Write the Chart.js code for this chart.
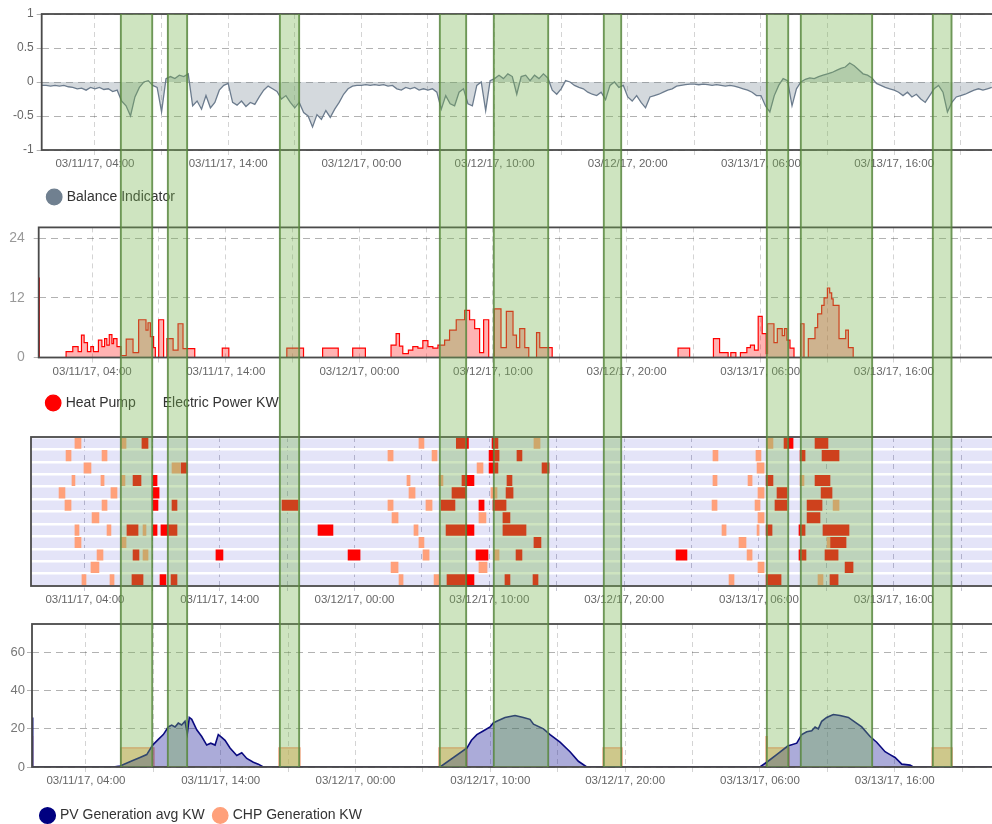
<!DOCTYPE html>
<html>
<head>
<meta charset="utf-8">
<title>Balance, heat pump and generation</title>
<script src="https://cdn.jsdelivr.net/npm/chart.js@4.4.1/dist/chart.umd.min.js"></script>
<style>
  html, body { margin: 0; padding: 0; background: #fff; overflow: hidden; }
  #page { position: relative; width: 992px; height: 824px; overflow: hidden; }
  canvas { position: absolute; left: 0; }
  #bands { pointer-events: none; z-index: 5; }
</style>
</head>
<body>
<div id="page">
  <canvas id="balance-chart" width="1010" height="214" style="top:0px"></canvas>
  <canvas id="heatpump-chart" width="1010" height="210" style="top:210px"></canvas>
  <canvas id="schedule-chart" width="1010" height="190" style="top:425px"></canvas>
  <canvas id="generation-chart" width="1010" height="219" style="top:614px"></canvas>
  <canvas id="bands" width="1010" height="753" style="top:14px"></canvas>
</div>
<script>
//Time axis in hours since 03/11/17 00:00
const tickHours = [4, 9, 14, 19, 24, 29, 34, 39, 44, 49, 54, 59, 64, 69];
const tickLabels = ["03/11/17, 04:00", "", "03/11/17, 14:00", "", "03/12/17, 00:00", "",
  "03/12/17, 10:00", "", "03/12/17, 20:00", "", "03/13/17, 06:00", "", "03/13/17, 16:00", ""];

//Balance indicator, one reading every 20 minutes
const balanceStep = 1 / 3;
const balanceValues = [
  -0.05, -0.05, -0.06, -0.05, -0.06, -0.05, -0.07, -0.08, -0.1, -0.09, -0.12, -0.08,
  -0.1, -0.08, -0.11, -0.1, -0.14, -0.12, -0.28, -0.35, -0.5, -0.22, -0.08, 0.0,
  0.02, -0.05, -0.08, -0.44, 0.05, 0.08, 0.05, 0.1, 0.08, 0.12, -0.35, -0.28,
  -0.4, -0.2, -0.38, -0.3, -0.12, -0.05, -0.02, -0.3, -0.34, -0.28, -0.36, -0.3,
  -0.33, -0.22, -0.12, -0.06, -0.1, -0.14, -0.25, -0.2, -0.3, -0.38, -0.3, -0.45,
  -0.5, -0.66, -0.48, -0.55, -0.42, -0.52, -0.4, -0.3, -0.18, -0.1, -0.06, -0.05,
  -0.05, -0.04, -0.05, -0.04, -0.05, -0.04, -0.06, -0.05, -0.1, -0.12, -0.08, -0.1,
  -0.08, -0.12, -0.1, -0.12, -0.1, -0.15, -0.4, -0.2, -0.32, -0.35, -0.15, -0.1,
  -0.32, -0.35, -0.05, 0.0, -0.42, 0.02, 0.05, 0.1, 0.05, 0.12, 0.08, -0.18,
  0.08, 0.1, 0.02, 0.1, 0.05, 0.12, 0.06, -0.12, -0.18, -0.1, 0.02, 0.0,
  -0.05, -0.08, -0.1, -0.15, -0.18, -0.2, -0.15, -0.26, -0.05, 0.0, -0.08, -0.05,
  -0.22, -0.28, -0.2, -0.3, -0.38, -0.22, -0.2, -0.18, -0.15, -0.12, -0.1, -0.06,
  -0.05, -0.04, -0.03, -0.03, -0.04, -0.03, -0.04, -0.05, -0.04, -0.05, -0.06, -0.05,
  -0.06, -0.08, -0.1, -0.12, -0.15, -0.2, -0.2, -0.35, -0.44, -0.2, -0.05, 0.05,
  0.02, -0.35, -0.1, 0.0, 0.04, 0.06, 0.05, 0.08, 0.1, 0.12, 0.14, 0.17,
  0.2, 0.22, 0.28, 0.24, 0.18, 0.12, 0.1, 0.06, -0.02, -0.05, -0.08, -0.1,
  -0.12, -0.15, -0.2, -0.15, -0.22, -0.18, -0.25, -0.3, -0.2, -0.1, -0.05, -0.15,
  -0.44, -0.3, -0.22, -0.2, -0.18, -0.15, -0.12, -0.1, -0.12, -0.1, -0.08
];

//Heat pump electric power KW: [hour, kw] from that hour on
const heatPumpPoints = [
  [0, 16], [0.05, 0],
  [2.05, 1.2], [2.55, 2.2], [2.95, 1.2], [3.2, 4.5], [3.4, 3], [3.65, 1.2], [3.9, 2.2], [4.1, 1.2],
  [4.47, 3.5], [4.73, 2.2], [4.93, 3.8], [5.1, 2.5], [5.28, 4.6], [5.48, 2.8], [5.6, 3.8], [5.86, 2.2],
  [6.16, 0.4], [6.55, 3.7], [7.06, 1.0], [7.48, 7.6], [8.03, 5.5], [8.18, 7], [8.36, 4.2], [8.6, 2],
  [8.73, 0], [8.98, 7.6], [9.35, 0], [9.6, 3.8], [10.06, 1.5], [10.43, 6.8], [10.8, 1.8], [11.68, 0],
  [13.74, 1.9], [14.23, 0], [18.57, 1.9], [19.82, 0], [21.25, 1.9], [22.42, 0], [23.5, 1.9], [24.45, 0],
  [26.37, 2.5], [26.75, 4.8], [27.0, 2.3], [27.25, 0.8], [27.67, 1.5], [28.0, 2.2], [28.38, 1.9],
  [28.75, 3.4], [29.13, 2.2], [29.5, 1.9], [29.88, 2.5], [30.38, 3.5], [30.75, 5.5], [31.25, 7.6],
  [31.88, 9.5], [32.25, 7.6], [32.63, 5.8], [33.0, 1.0], [33.3, 7.6], [33.68, 0], [34.1, 9.8],
  [34.6, 2], [35.0, 9.3], [35.5, 4.5], [35.76, 2], [36.0, 5.8], [36.38, 2], [36.68, 0], [37.26, 5],
  [37.5, 2], [38.43, 0], [47.85, 1.9], [48.72, 0],
  [50.5, 3.8], [50.96, 1.0], [51.6, 0], [51.8, 1.0], [52.18, 0], [52.52, 1.0], [53.0, 2.0], [53.27, 2.5],
  [53.57, 1.5], [53.85, 8.3], [54.15, 4.8], [54.45, 0.8], [54.55, 6.8], [55.03, 3.0], [55.28, 5.8],
  [55.65, 4.4], [55.82, 5.8], [56.0, 3.5], [56.23, 1.9], [56.53, 0], [57.03, 6.8], [57.28, 0],
  [57.6, 3.8], [58.1, 6], [58.3, 8.8], [58.6, 10.5], [58.78, 12], [59.03, 14], [59.2, 13], [59.35, 11.8],
  [59.46, 10.5], [59.9, 3.8], [60.4, 5.5], [60.6, 2], [60.96, 0], [71.5, 0]
];

//PV generation avg KW: [hour, kw]
const pvPoints = [
  [0, 26], [0.05, 0], [6.03, 0], [6.53, 0.5], [7.52, 3.5], [8.01, 5], [8.51, 6.5], [8.95, 11.5],
  [9.37, 14.5], [9.74, 17], [10.11, 21], [10.36, 22], [10.61, 21], [10.85, 23], [11.1, 22], [11.35, 24],
  [11.52, 17.5], [11.67, 26], [11.85, 25], [12.22, 19.5], [12.59, 16], [12.96, 11.5], [13.26, 12.5],
  [13.58, 11.5], [13.82, 17], [14.07, 15.5], [14.32, 14], [14.69, 10], [15.19, 6], [15.56, 7.5],
  [15.93, 4.5], [16.42, 2.5], [16.79, 1.5], [17.16, 0],
  [30.27, 0], [32.27, 10], [32.6, 14], [33.0, 17], [33.5, 19], [33.98, 21], [34.2, 23], [34.47, 24],
  [35.09, 26], [35.83, 27], [36.45, 26], [36.94, 25], [37.2, 22.5], [37.94, 20], [38.43, 17],
  [39.17, 13], [39.91, 8], [40.53, 3], [41.15, 0],
  [54.0, 0], [54.5, 2.5], [55.24, 6.5], [56.06, 11], [56.73, 12.5], [57.1, 17], [57.47, 18.5],
  [57.84, 19], [58.09, 21], [58.33, 20], [58.58, 24], [58.95, 26], [59.44, 27.5], [59.94, 27],
  [60.56, 26], [61.05, 23.5], [61.55, 21], [62.17, 16], [62.66, 13], [63.28, 8], [63.65, 6.5],
  [64.02, 5], [64.52, 1.5], [65.13, 1], [65.38, 0], [71.5, 0]
];

//CHP generation KW: [hour, kw] from that hour on
const chpPoints = [
  [0, 16], [0.05, 0], [6.6, 10], [9.05, 0], [18.32, 10], [19.88, 0], [30.19, 10], [32.27, 0],
  [42.36, 10], [43.77, 0], [54.45, 16], [54.55, 10], [56.16, 0], [66.77, 10], [68.25, 0], [71.5, 0]
];

//Schedule grid: [row, start hour, end hour]
const scheduleRows = ["1", "2", "3", "4", "5", "6", "7", "8", "9", "10", "11", "12"];
const chpCells = [
  [0, 3.26, 3.71], [0, 6.68, 7.05], [0, 28.78, 29.15], [0, 37.31, 37.76], [0, 54.6, 55.04],
  [1, 2.6, 2.97], [1, 5.27, 5.64], [1, 26.48, 26.86], [1, 29.75, 30.12], [1, 50.59, 50.96], [1, 53.78, 54.15],
  [2, 3.93, 4.45], [2, 10.46, 11.05], [2, 33.09, 33.53], [2, 53.86, 54.38],
  [3, 3.04, 3.26], [3, 5.19, 5.42], [3, 6.68, 6.97], [3, 27.89, 28.12], [3, 30.27, 30.56], [3, 50.59, 50.89],
  [3, 53.19, 53.49], [3, 57.05, 57.34],
  [4, 2.08, 2.52], [4, 5.93, 6.38], [4, 28.04, 28.49], [4, 34.12, 34.57], [4, 53.93, 54.38],
  [5, 2.52, 2.97], [5, 5.27, 5.64], [5, 26.48, 26.86], [5, 29.3, 29.75], [5, 50.52, 50.89], [5, 53.71, 54.08],
  [5, 59.5, 59.94],
  [6, 4.53, 5.04], [6, 26.78, 27.23], [6, 33.23, 33.75], [6, 53.93, 54.38],
  [7, 3.26, 3.56], [7, 5.64, 5.93], [7, 8.31, 8.53], [7, 28.41, 28.71], [7, 51.26, 51.56], [7, 53.86, 54.01],
  [8, 3.26, 3.71], [8, 6.68, 7.05], [8, 28.78, 29.15], [8, 52.52, 53.04], [8, 59.05, 59.27],
  [9, 4.9, 5.34], [9, 8.31, 8.68], [9, 29.08, 29.53], [9, 34.35, 34.72], [9, 53.12, 53.49],
  [10, 4.45, 5.04], [10, 26.71, 27.23], [10, 33.23, 33.83], [10, 53.93, 54.38],
  [11, 3.78, 4.08], [11, 5.86, 6.16], [11, 27.3, 27.6], [11, 29.9, 30.27], [11, 51.78, 52.15], [11, 58.38, 58.75]
];
const heatPumpCells = [
  [0, 8.23, 8.68], [0, 31.55, 32.45], [0, 34.2, 34.64], [0, 55.86, 56.53], [0, 58.16, 59.12],
  [1, 33.98, 34.72], [1, 36.05, 36.42], [1, 57.05, 57.42], [1, 58.68, 59.94],
  [2, 11.13, 11.57], [2, 33.98, 34.64], [2, 37.91, 38.43],
  [3, 7.57, 8.16], [3, 9.05, 9.35], [3, 31.97, 32.86], [3, 35.31, 35.68], [3, 54.53, 55.04], [3, 58.16, 59.27],
  [4, 9.05, 9.5], [4, 31.23, 32.27], [4, 35.24, 35.76], [4, 55.34, 56.08], [4, 58.61, 59.42],
  [5, 9.05, 9.42], [5, 10.46, 10.83], [5, 18.62, 19.81], [5, 30.42, 31.45], [5, 33.23, 33.61],
  [5, 34.27, 35.24], [5, 55.19, 56.08], [5, 57.57, 58.68],
  [6, 35.01, 35.53], [6, 57.57, 58.53],
  [7, 7.12, 7.94], [7, 9.05, 9.35], [7, 9.64, 10.83], [7, 21.29, 22.4], [7, 30.79, 32.86], [7, 35.01, 36.72],
  [7, 54.53, 54.97], [7, 56.97, 57.42], [7, 58.75, 60.68],
  [8, 37.31, 37.83], [8, 59.27, 60.46],
  [9, 7.57, 8.01], [9, 13.72, 14.24], [9, 23.52, 24.41], [9, 33.01, 33.9], [9, 35.98, 36.42],
  [9, 47.85, 48.66], [9, 56.97, 57.49], [9, 58.9, 59.87],
  [10, 60.39, 60.98],
  [11, 7.49, 8.31], [11, 9.57, 10.01], [11, 10.39, 10.83], [11, 30.86, 32.86], [11, 35.16, 35.53],
  [11, 37.24, 37.61], [11, 54.53, 55.64], [11, 59.27, 59.87]
];

//Highlighted periods: [start hour, end hour]
const bandRanges = [
  [5.88, 8.36], [9.41, 10.98], [17.82, 19.39], [29.83, 31.93], [33.88, 38.09],
  [42.14, 43.57], [54.38, 56.11], [56.93, 62.41], [66.84, 68.37]
];

Chart.defaults.font.family = 'Arial, "Liberation Sans", sans-serif';
Chart.defaults.animation = false;

//Plot frame and optional plot background
const framePlugin = {
  id: "frame",
  beforeDraw(chart, args, opts) {
    if (!opts.background) return;
    const a = chart.chartArea;
    chart.ctx.save();
    chart.ctx.fillStyle = opts.background;
    chart.ctx.fillRect(a.left, a.top, a.right - a.left, a.bottom - a.top);
    chart.ctx.restore();
  },
  afterDraw(chart) {
    const a = chart.chartArea;
    const ctx = chart.ctx;
    ctx.save();
    ctx.strokeStyle = "#4a4a4a";
    ctx.lineWidth = 1.8;
    ctx.strokeRect(a.left, a.top, a.right - a.left, a.bottom - a.top);
    ctx.restore();
  },
};

//Shared x axis
function timeAxis(height, gridColor) {
  return {
    type: "linear",
    min: 0,
    max: 72,
    afterBuildTicks: (axis) => {
      axis.ticks = tickHours.map((v) => ({ value: v }));
    },
    afterFit: (axis) => {
      axis.height = height;
    },
    ticks: {
      autoSkip: false,
      maxRotation: 0,
      padding: 2,
      color: "#666",
      font: { size: 11.5 },
      callback: (v, i) => tickLabels[i],
    },
    grid: { color: gridColor || "rgba(0,0,0,0.17)", tickLength: 5 },
    border: { display: false, dash: [5, 4] },
  };
}

function valueAxis(width, min, max, ticks, font, color, padding) {
  return {
    min: min,
    max: max,
    afterBuildTicks: (axis) => {
      axis.ticks = ticks.map((v) => ({ value: v }));
    },
    afterFit: (axis) => {
      axis.width = width;
    },
    ticks: { color: color, font: { size: font }, padding: padding, callback: (v) => String(v) },
    grid: { color: "rgba(0,0,0,0.3)", tickLength: 5 },
    border: { display: false, dash: [7, 5] },
  };
}

function legendOptions(padding) {
  return {
    position: "bottom",
    align: "start",
    fullSize: false,
    labels: {
      usePointStyle: true,
      pointStyle: "circle",
      boxWidth: 11,
      boxHeight: 11,
      padding: padding,
      color: "#333",
      font: { size: 14 },
    },
  };
}

//Balance indicator
new Chart(document.getElementById("balance-chart"), {
  type: "line",
  data: {
    datasets: [
      {
        label: "Balance Indicator",
        data: balanceValues.map((v, i) => ({ x: i * balanceStep, y: v })),
        borderColor: "#6c7c8e",
        backgroundColor: "rgba(112,128,144,0.3)",
        pointBackgroundColor: "#708090",
        pointBorderColor: "#708090",
        borderWidth: 1.3,
        pointRadius: 0,
        fill: "origin",
      },
    ],
  },
  options: {
    responsive: false,
    layout: { padding: { top: 14, right: 9.3, bottom: 0, left: 0 } },
    scales: {
      x: timeAxis(33),
      y: valueAxis(41.7, -1, 1, [-1, -0.5, 0, 0.5, 1], 12, "#666", 3),
    },
    plugins: { legend: legendOptions(7), tooltip: { enabled: false }, frame: {} },
  },
  plugins: [framePlugin],
});

//Heat pump power
new Chart(document.getElementById("heatpump-chart"), {
  type: "line",
  data: {
    datasets: [
      {
        label: "Heat Pump",
        data: heatPumpPoints.map((p) => ({ x: p[0], y: p[1] })),
        borderColor: "#ff0000",
        backgroundColor: "rgba(255,0,0,0.3)",
        pointBackgroundColor: "#ff0000",
        pointBorderColor: "#ff0000",
        borderWidth: 1.2,
        pointRadius: 0,
        stepped: true,
        fill: "origin",
      },
      {
        label: "Electric Power KW",
        data: [],
        borderColor: "rgba(0,0,0,0)",
        backgroundColor: "rgba(0,0,0,0)",
        pointBackgroundColor: "rgba(0,0,0,0)",
        pointBorderColor: "rgba(0,0,0,0)",
      },
    ],
  },
  options: {
    responsive: false,
    layout: { padding: { top: 12, right: 9.3, bottom: 0, left: 0 } },
    scales: {
      x: timeAxis(29.5),
      y: valueAxis(38.7, 0, 26.2, [0, 12, 24], 14, "#999", 9),
    },
    plugins: { legend: legendOptions(9), tooltip: { enabled: false }, frame: {} },
  },
  plugins: [framePlugin],
});

//Schedule grid
new Chart(document.getElementById("schedule-chart"), {
  type: "bar",
  data: {
    labels: scheduleRows,
    datasets: [
      {
        label: "CHP",
        data: chpCells.map((c) => ({ x: [c[1], c[2]], y: scheduleRows[c[0]] })),
        backgroundColor: "#ffa07a",
        barThickness: 10.5,
        grouped: false,
        borderWidth: 0,
      },
      {
        label: "Heat Pump",
        data: heatPumpCells.map((c) => ({ x: [c[1], c[2]], y: scheduleRows[c[0]] })),
        backgroundColor: "#ff0000",
        barThickness: 10.5,
        grouped: false,
        borderWidth: 0,
      },
    ],
  },
  options: {
    indexAxis: "y",
    responsive: false,
    layout: { padding: { top: 12, right: 8.4, bottom: 4, left: 0 } },
    scales: {
      x: timeAxis(25, "rgba(60,60,100,0.3)"),
      y: {
        type: "category",
        offset: true,
        afterFit: (axis) => {
          axis.width = 31;
        },
        ticks: { display: false },
        grid: { color: "#ffffff", lineWidth: 2.5, drawTicks: false, offset: true },
        border: { display: false },
      },
    },
    plugins: { legend: { display: false }, tooltip: { enabled: false }, frame: { background: "#e4e4f8" } },
  },
  plugins: [framePlugin],
});

//PV and CHP generation
new Chart(document.getElementById("generation-chart"), {
  type: "line",
  data: {
    datasets: [
      {
        label: "PV Generation avg KW",
        data: pvPoints.map((p) => ({ x: p[0], y: p[1] })),
        borderColor: "#0a0a80",
        backgroundColor: "rgba(0,0,139,0.33)",
        pointBackgroundColor: "#000080",
        pointBorderColor: "#000080",
        borderWidth: 1.6,
        pointRadius: 0,
        fill: "origin",
      },
      {
        label: "CHP Generation KW",
        data: chpPoints.map((p) => ({ x: p[0], y: p[1] })),
        borderColor: "#ff9f7a",
        backgroundColor: "rgba(255,170,90,0.5)",
        pointBackgroundColor: "#ffa07a",
        pointBorderColor: "#ffa07a",
        borderWidth: 1.2,
        pointRadius: 0,
        stepped: true,
        fill: "origin",
      },
    ],
  },
  options: {
    responsive: false,
    layout: { padding: { top: 10, right: 7.4, bottom: 0.5, left: 0 } },
    scales: {
      x: timeAxis(31.5),
      y: valueAxis(32, 0, 75, [0, 20, 40, 60], 13, "#777", 2),
    },
    plugins: { legend: legendOptions(10), tooltip: { enabled: false }, frame: {} },
  },
  plugins: [framePlugin],
});

//Highlight bands laid over all panels
new Chart(document.getElementById("bands"), {
  type: "bar",
  data: {
    labels: ["band"],
    datasets: [
      {
        label: "Periods",
        data: bandRanges.map((b) => ({ x: b, y: "band" })),
        backgroundColor: "rgba(120,180,80,0.36)",
        borderColor: "rgba(85,130,60,0.85)",
        borderWidth: { left: 1.5, right: 1.5, top: 0, bottom: 0 },
        borderSkipped: false,
        barPercentage: 1,
        categoryPercentage: 1,
      },
    ],
  },
  options: {
    indexAxis: "y",
    responsive: false,
    layout: { padding: { top: 0, right: 9.3, bottom: 0, left: 41.7 } },
    scales: {
      x: { type: "linear", display: false, min: 0, max: 72 },
      y: { display: false },
    },
    plugins: { legend: { display: false }, tooltip: { enabled: false } },
  },
});
</script>
</body>
</html>
